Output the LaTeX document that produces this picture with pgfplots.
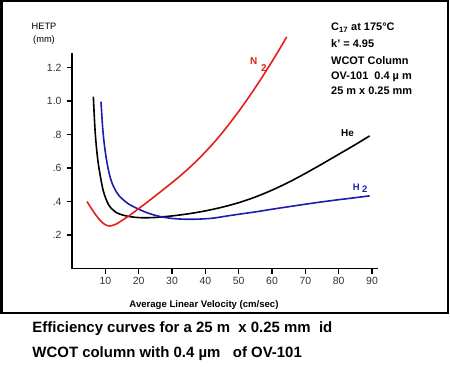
\documentclass[border=0pt]{standalone}
\usepackage{fontspec}
\setmainfont{Liberation Sans}
\usepackage{pgfplots}
\pgfplotsset{compat=1.18}
\definecolor{nred}{HTML}{E3201B}
\definecolor{hblue}{HTML}{1C1CB0}
\begin{document}
\begin{tikzpicture}[x=1bp,y=1bp]
\useasboundingbox (0,0) rectangle (450,366);
\draw[line width=2bp] (1.5,364.5) rectangle (448,53);
\begin{axis}[
  at={(72bp,97.5bp)}, anchor=south west,
  scale only axis, width=306bp, height=215.5bp,
  xmin=0, xmax=91.8, ymin=0, ymax=1.287,
  axis x line*=bottom, axis y line*=left,
  axis line style={line width=1.6bp},
  tick align=outside, major tick length=5bp,
  tick style={line width=1.2bp, black},
  xtick={10,20,30,40,50,60,70,80,90},
  xticklabels={10,20,30,40,50,60,70,80,90},
  ytick={0.2,0.4,0.6,0.8,1.0,1.2},
  yticklabels={.2,.4,.6,.8,1.0,1.2},
  ticklabel style={font=\fontsize{10.5}{12}\selectfont, text=black!80},
  yticklabel style={xshift=-2bp},
  /pgf/number format/assume math mode=true,
  clip=false,
]
% He
\addplot[black, line width=1.6bp, smooth, tension=0.5] coordinates {
(6.4,1.026) (6.9,0.83) (7.4,0.71) (7.9,0.625) (8.6,0.54) (9.3,0.47) (10.1,0.42)
(11,0.38) (12,0.355) (13,0.338) (14.2,0.326) (16,0.315) (18,0.308) (20,0.304)
(22,0.303) (25,0.305) (30,0.314) (35,0.327) (40,0.344) (45,0.366) (50,0.393)
(55,0.427) (60,0.468) (65,0.515) (70,0.568) (75,0.624) (80,0.682) (85,0.740) (89.3,0.792)};
% H2
\addplot[hblue, line width=1.6bp, smooth, tension=0.5] coordinates {
(8.7,0.996) (9.2,0.84) (9.7,0.74) (10.3,0.655) (10.9,0.59) (11.6,0.535) (12.4,0.492)
(13.4,0.455) (14.4,0.428) (15.4,0.41) (17,0.385) (19.5,0.359) (22,0.337) (24.5,0.32)
(27,0.308) (29.5,0.30) (32,0.296) (35,0.294) (38,0.295) (42,0.30) (46,0.312)
(50,0.324) (55,0.338) (60,0.354) (65,0.369) (70,0.384) (75,0.398) (80,0.411)
(85,0.423) (89.3,0.434)};
% N2
\addplot[nred, line width=1.6bp, smooth, tension=0.5] coordinates {
(4.5,0.40) (5.5,0.368) (6.5,0.338) (7.5,0.31) (8.5,0.286) (9.5,0.268) (10.5,0.257)
(11.2,0.254) (12,0.256) (13.5,0.268) (15,0.287) (17,0.313) (19.5,0.350) (22.5,0.395)
(25,0.434) (27.5,0.473) (30,0.513) (32.5,0.554) (35,0.598) (37.5,0.645) (40,0.696)
(42.5,0.750) (45,0.809) (47.5,0.872) (50,0.938) (52.5,1.008) (55,1.081) (57.5,1.157)
(60,1.236) (62.5,1.318) (64.4,1.383)};
\end{axis}
% axis titles
\node[anchor=base, inner sep=0, font=\fontsize{9.3}{11}\selectfont] at (44,336.7) {HETP};
\node[anchor=base, inner sep=0, font=\fontsize{9.3}{11}\selectfont] at (44,323.3) {(mm)};
\node[anchor=base, inner sep=0, font=\bfseries\fontsize{9.6}{11}\selectfont] at (204,58.7) {Average Linear Velocity (cm/sec)};
% curve labels
\node[anchor=base west, inner sep=0, text=nred, font=\bfseries\fontsize{10}{12}\selectfont] at (250,301.7) {N};
\node[anchor=base west, inner sep=0, text=nred, font=\bfseries\fontsize{10}{12}\selectfont] at (261,294.3) {2};
\node[anchor=base west, inner sep=0, font=\bfseries\fontsize{10}{12}\selectfont] at (341,230) {He};
\node[anchor=base west, inner sep=0, text=hblue, font=\bfseries\fontsize{9.5}{12}\selectfont] at (352.7,176) {H};
\node[anchor=base west, inner sep=0, text=hblue, font=\bfseries\fontsize{9.5}{12}\selectfont] at (362,173.3) {2};
% conditions
\begin{scope}[every node/.style={anchor=base west, inner sep=0, font=\bfseries\fontsize{11}{13}\selectfont}]
\node at (331,335.3) {C\textsubscript{17} at 175°C};
\node at (331,318.7) {k' = 4.95};
\node at (331,302) {WCOT Column};
\node at (331,287) {OV-101\ \ 0.4 µ m};
\node at (331,272) {25 m\ x 0.25 mm};
\end{scope}
% caption
\begin{scope}[every node/.style={anchor=base west, inner sep=0, font=\bfseries\fontsize{15}{18}\selectfont}]
\node at (32.3,33.3) {Efficiency curves for a 25 m\ \ x 0.25 mm\ \ id};
\node at (32.3,8.3) {WCOT column with 0.4 µm\ \ \ of OV-101};
\end{scope}
\end{tikzpicture}
\end{document}
